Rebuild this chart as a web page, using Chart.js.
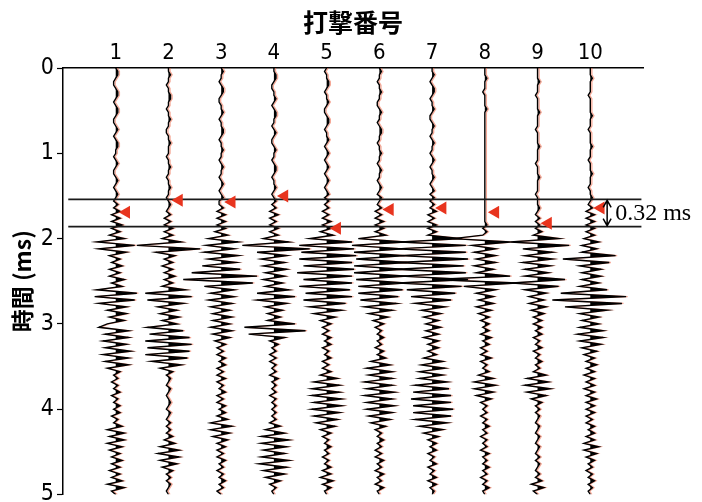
<!DOCTYPE html>
<html>
<head>
<meta charset="utf-8">
<script src="https://cdn.jsdelivr.net/npm/chart.js@4.4.1/dist/chart.umd.min.js"></script>
<style>
body { margin: 0; background: #fff; }
#wrap { width: 702px; height: 502px; }
</style>
</head>
<body>
<div id="wrap"><canvas id="shotChart" width="702" height="502"></canvas></div>
<script>
// shot numbers on the top axis
const shotNumbers = [1, 2, 3, 4, 5, 6, 7, 8, 9, 10];
// time ticks (ms)
const timeTicks = [0, 1, 2, 3, 4, 5];
// sample interval of the traces (ms)
const sampleStep = 0.04;

// trace amplitudes: one row per ms (25 samples), last value at 5 ms
const trace1 = [
  0,1,1,0,-1,-1,0,1,1,0,-1,0,1,1,0,-1,-1,0,1,0,-1,0,1,1,0,
  0,-1,0,1,0,-1,-1,0,1,0,-1,0,1,0,-1,1,-1,2,-2,2,-2,3,-2,2,-3,
  4,-9,9,-8,5,-3,2,-2,3,-3,2,-3,4,-2,3,-9,10,-10,9,-8,5,-4,5,-3,4,
  -4,-8,6,-5,6,-6,5,-5,7,-6,6,-5,6,-4,2,-1,1,-2,1,-1,2,-2,1,-1,2,
  -1,2,-2,1,-1,3,-4,4,-3,4,-4,3,-3,2,-2,3,-2,2,-3,2,-2,3,-4,4,-2,
  0
];
const trace2 = [
  0,0,1,0,0,-1,0,0,1,1,0,0,-1,0,0,1,0,0,-1,-1,0,0,1,0,0,
  0,-1,0,0,1,0,0,-1,0,0,1,0,0,-1,0,1,0,-1,1,-2,1,-2,2,-2,2,
  -3,6,-15,15,-6,3,-2,2,-3,2,-2,3,-2,2,-3,8,-11,11,-10,7,-5,4,-4,5,-3,
  4,-10,7,-9,10,-11,11,-10,10,-11,9,-8,6,-4,2,-1,1,0,-1,1,0,-1,0,1,0,
  -1,1,0,-1,1,-1,1,-1,2,-2,3,-4,5,-5,5,-4,4,-3,2,-1,1,-1,1,0,-1,
  0
];
const trace3 = [
  0,1,0,0,-1,0,1,1,0,-1,-1,0,0,1,0,-1,0,0,1,1,0,-1,0,0,1,
  0,0,-1,0,1,0,0,-1,0,1,0,-1,0,1,-1,-1,1,-2,2,-2,2,-2,2,-3,3,
  -6,8,-7,6,-8,8,-6,7,-9,9,-14,17,-18,15,-8,6,-5,6,-6,5,-5,4,-4,5,-4,
  4,-5,5,-4,4,-3,2,-2,1,-2,2,-1,2,-2,1,-2,2,-2,1,-1,2,-2,1,-2,2,
  -1,2,-2,3,-5,5,-5,4,-4,3,-2,2,-2,1,-2,2,-1,1,-2,1,-1,2,-1,1,-2,
  0
];
const trace4 = [
  0,0,1,1,0,-1,-1,0,0,1,0,-1,0,1,1,0,0,-1,0,1,0,-1,-1,0,1,
  0,0,-1,0,1,1,0,-1,0,0,1,0,-1,0,1,-1,1,-2,2,-2,1,-2,2,-2,2,
  -5,7,-15,17,-8,6,-6,5,-5,6,-4,5,-5,4,-4,7,-8,10,-8,6,-4,4,-3,3,-3,
  10,-14,15,-12,5,-2,2,-1,1,-2,1,-2,1,-1,1,-2,2,-1,1,-1,1,-2,1,-1,1,
  -1,1,-1,1,-2,3,-4,5,-6,7,-6,6,-5,5,-6,7,-7,6,-5,5,-4,3,-2,1,-1,
  0
];
const trace5 = [
  0,-1,0,0,1,1,0,-1,0,0,1,0,-1,-1,0,1,1,0,-1,0,0,1,0,-1,0,
  1,0,-1,0,1,0,-1,0,1,0,-1,0,1,-1,1,-1,1,-2,1,-2,2,-2,2,-3,3,
  -8,12,-13,13,-12,14,-13,12,-11,13,-14,12,-11,12,-13,11,-10,12,-11,9,-8,7,-6,4,-3,
  2,-2,1,-2,2,-1,2,-2,1,-1,2,-2,1,-2,2,-3,5,-6,6,-7,6,-7,7,-6,7,
  -7,6,-6,5,-5,4,-3,2,-2,1,-1,2,-1,1,-2,1,-1,2,-2,2,-3,3,-2,2,-1,
  0
];
const trace6 = [
  0,1,0,0,-1,0,0,1,0,0,-1,-1,0,1,0,0,-1,0,1,1,0,0,-1,0,0,
  1,0,0,-1,0,1,0,0,-1,0,1,0,-1,1,0,-1,1,-2,1,-2,2,-2,2,-2,3,
  -10,12,-13,11,-12,12,-11,13,-12,11,-12,13,-11,12,-10,11,-10,9,-9,8,-7,6,-5,4,-3,
  2,-2,1,-1,2,-1,1,-2,2,-1,3,-4,5,-6,6,-5,6,-7,6,-6,7,-7,6,-6,7,
  -6,6,-5,5,-4,3,-2,1,-1,2,-1,1,-2,1,-2,2,-1,1,-2,2,-1,1,-2,2,-1,
  0
];
const trace7 = [
  0,0,1,0,-1,0,1,1,0,-1,0,0,1,0,-1,-1,0,1,0,0,-1,0,1,0,0,
  -1,0,1,0,-1,0,0,1,0,-1,0,1,-1,1,-1,1,-1,2,-2,1,-2,2,-2,2,-2,
  14,-15,16,-17,16,-15,17,-16,15,-17,16,-15,17,-16,14,-12,11,-10,9,-8,6,-5,4,-4,3,
  -3,4,-3,3,-4,3,-2,3,-2,2,-4,5,-5,6,-6,5,-6,7,-8,8,-9,9,-10,9,-9,
  10,-9,9,-8,7,-6,5,-4,3,-2,2,-1,2,-2,1,-1,2,-2,1,-1,2,-2,2,-1,1,
  0
];
const trace8 = [
  0,0,0,1,0,0,0,-1,0,0,0,0,1,0,0,0,0,0,0,0,0,0,0,0,0,
  0,0,0,0,0,0,0,0,0,0,0,0,0,0,0,0,0,0,0,0,0,1,-1,1,-1,
  -15,12,-6,5,-5,5,-4,5,-5,4,-4,12,-25,15,-10,5,-4,4,-3,4,-4,3,-3,2,-2,
  2,-1,2,-2,3,-1,2,-2,1,-2,3,-2,1,-1,2,-3,4,-5,5,-5,4,-4,3,-2,1,
  -1,1,-2,1,-1,2,-1,1,-2,1,-1,1,-2,2,-1,1,-1,2,-1,1,-2,1,-1,2,-1,
  0
];
const trace9 = [
  0,0,0,0,1,0,0,0,-1,0,0,0,0,1,0,0,0,0,-1,0,0,0,0,1,0,
  0,0,0,-1,0,0,0,1,0,0,0,0,-1,0,0,0,1,0,-1,1,-1,1,-1,2,-2,
  10,-13,15,-7,7,-6,7,-7,6,-6,5,-6,13,-12,10,-6,4,-4,3,-4,4,-3,3,-2,2,
  -2,2,-1,2,-2,1,-1,2,-2,1,-1,2,-1,1,-2,4,-5,5,-6,6,-5,4,-3,2,-1,
  1,-1,1,0,-1,1,0,-1,1,0,-1,1,0,-1,1,-1,1,0,-1,1,-1,2,-3,3,-2,
  0
];
const trace10 = [
  0,0,0,1,0,0,0,0,-1,0,0,0,0,0,1,0,0,0,-1,0,0,0,0,1,0,
  0,0,-1,0,0,0,1,0,0,0,-1,0,0,1,0,-1,1,-2,2,-2,2,-2,2,-2,2,
  -3,4,-4,3,-4,12,-13,9,-5,5,-4,5,-4,4,-5,8,-14,17,-18,15,-12,8,-5,4,-4,
  4,-5,6,-6,6,-5,5,-4,3,-3,2,-2,3,-2,2,-3,2,-2,2,-3,2,-2,3,-2,2,
  -2,2,-2,1,-2,2,-1,2,-2,2,-3,4,-3,3,-2,2,-1,1,-2,1,-1,2,-1,1,-1,
  0
];

// first-break picks (ms)
const firstBreaks = [1.69, 1.55, 1.57, 1.50, 1.88, 1.66, 1.64, 1.69, 1.82, 1.64];
// band holding the picks and its width (ms)
const pickBandTop = 1.54;
const pickSpread = 0.32;

const traces = [trace1, trace2, trace3, trace4, trace5, trace6, trace7, trace8, trace9, trace10];

const AMP_SCALE = 0.04;       // amplitude unit -> trace spacing
const PICK_SHIFT = 0.2;       // markers sit just right of the trace
const FRINGE_SHIFT = 0.03;    // reddish print fringe beside each wiggle
const numFont = "'Liberation Sans Narrow', 'DejaVu Sans Condensed', sans-serif";
const cjkFont = "'Noto Sans CJK JP', sans-serif";

function tracePoints(shot, amps, shift) {
    return amps.map((a, i) => ({ x: shot + shift + a * AMP_SCALE, y: i * sampleStep }));
}

// positive half of the wiggle, with zero crossings added so the fill hugs the line
function positiveLobes(shot, amps) {
    let pts = [];
    for (let i = 0; i < amps.length; i++) {
        let a = amps[i];
        let t = i * sampleStep;
        if (i > 0) {
            let p = amps[i - 1];
            if ((p > 0 && a < 0) || (p < 0 && a > 0)) {
                pts.push({ x: shot, y: t - sampleStep + sampleStep * p / (p - a) });
            }
        }
        pts.push({ x: shot + Math.max(a, 0) * AMP_SCALE, y: t });
    }
    return pts;
}

let datasets = [];

datasets.push({
    data: firstBreaks.map((t, i) => ({ x: shotNumbers[i] + PICK_SHIFT, y: t })),
    showLine: false,
    pointStyle: 'triangle',
    rotation: -90,
    pointRadius: 7.5,
    pointBackgroundColor: '#e8341e',
    pointBorderWidth: 0,
    order: 0
});

[pickBandTop, pickBandTop + pickSpread].forEach(t => {
    datasets.push({
        data: [{ x: 0.1, y: t }, { x: 10.97, y: t }],
        borderColor: '#1a1a1a',
        borderWidth: 1.6,
        pointRadius: 0,
        fill: false,
        order: 1
    });
});

traces.forEach((amps, i) => {
    let shot = shotNumbers[i];
    datasets.push({
        data: tracePoints(shot, amps, 0),
        borderColor: '#000',
        borderWidth: 1.4,
        pointRadius: 0,
        fill: false,
        order: 2
    });
    datasets.push({
        data: positiveLobes(shot, amps),
        borderWidth: 0,
        borderColor: 'rgba(0,0,0,0)',
        backgroundColor: '#000',
        pointRadius: 0,
        fill: { value: shot },
        order: 3
    });
    datasets.push({
        data: tracePoints(shot, amps, FRINGE_SHIFT),
        borderColor: 'rgba(236,96,64,0.55)',
        borderWidth: 1.3,
        pointRadius: 0,
        fill: false,
        order: 4
    });
});

// double arrow and label for the pick spread
const spreadMarker = {
    id: 'spreadMarker',
    afterDatasetsDraw(chart) {
        let { ctx, scales: { x, y } } = chart;
        let px = x.getPixelForValue(10.32);
        let y1 = y.getPixelForValue(pickBandTop) + 1;
        let y2 = y.getPixelForValue(pickBandTop + pickSpread) - 1;
        ctx.save();
        ctx.strokeStyle = '#000';
        ctx.lineWidth = 1.5;
        ctx.beginPath();
        ctx.moveTo(px, y1);
        ctx.lineTo(px, y2);
        ctx.moveTo(px - 4, y1 + 7);
        ctx.lineTo(px, y1);
        ctx.lineTo(px + 4, y1 + 7);
        ctx.moveTo(px - 4, y2 - 7);
        ctx.lineTo(px, y2);
        ctx.lineTo(px + 4, y2 - 7);
        ctx.stroke();
        ctx.fillStyle = '#000';
        ctx.font = "24px 'Liberation Serif', serif";
        ctx.textBaseline = 'middle';
        ctx.fillText(pickSpread.toFixed(2) + ' ms', px + 8, (y1 + y2) / 2 + 1);
        ctx.restore();
    }
};

new Chart(document.getElementById('shotChart'), {
    type: 'line',
    data: { datasets: datasets },
    plugins: [spreadMarker],
    options: {
        responsive: false,
        animation: false,
        indexAxis: 'y',
        layout: { padding: { left: 0, top: 0, right: 59, bottom: 7 } },
        elements: { line: { tension: 0 } },
        plugins: {
            legend: { display: false },
            tooltip: { enabled: false }
        },
        scales: {
            x: {
                type: 'linear',
                position: 'top',
                min: 0,
                max: 11,
                afterBuildTicks: s => { s.ticks = shotNumbers.map(v => ({ value: v })); },
                afterFit: s => { s.height = 68; s.paddingLeft = 0; s.paddingRight = 0; },
                grid: { drawOnChartArea: false, drawTicks: false },
                border: { color: '#000', width: 1.5 },
                ticks: { color: '#000', autoSkip: false, maxRotation: 0, padding: 2, font: { family: numFont, size: 22 } },
                title: { display: true, text: '打撃番号', color: '#000', padding: { top: 7, bottom: 0 }, font: { family: cjkFont, size: 25, weight: 'bold' } }
            },
            y: {
                type: 'linear',
                reverse: true,
                min: 0,
                max: 5,
                afterBuildTicks: s => { s.ticks = timeTicks.map(v => ({ value: v })); },
                afterFit: s => { s.width = 63; s.paddingTop = 0; s.paddingBottom = 0; },
                grid: { drawOnChartArea: false, drawTicks: true, tickLength: 6, color: '#000', tickWidth: 1.2 },
                border: { color: '#000', width: 1.5 },
                ticks: { color: '#000', padding: 3, font: { family: numFont, size: 23 } },
                title: { display: true, text: '時間 (ms)', color: '#000', padding: { top: 8, bottom: 0 }, font: { family: cjkFont, size: 23, weight: 'bold' } }
            }
        }
    }
});
</script>
</body>
</html>
